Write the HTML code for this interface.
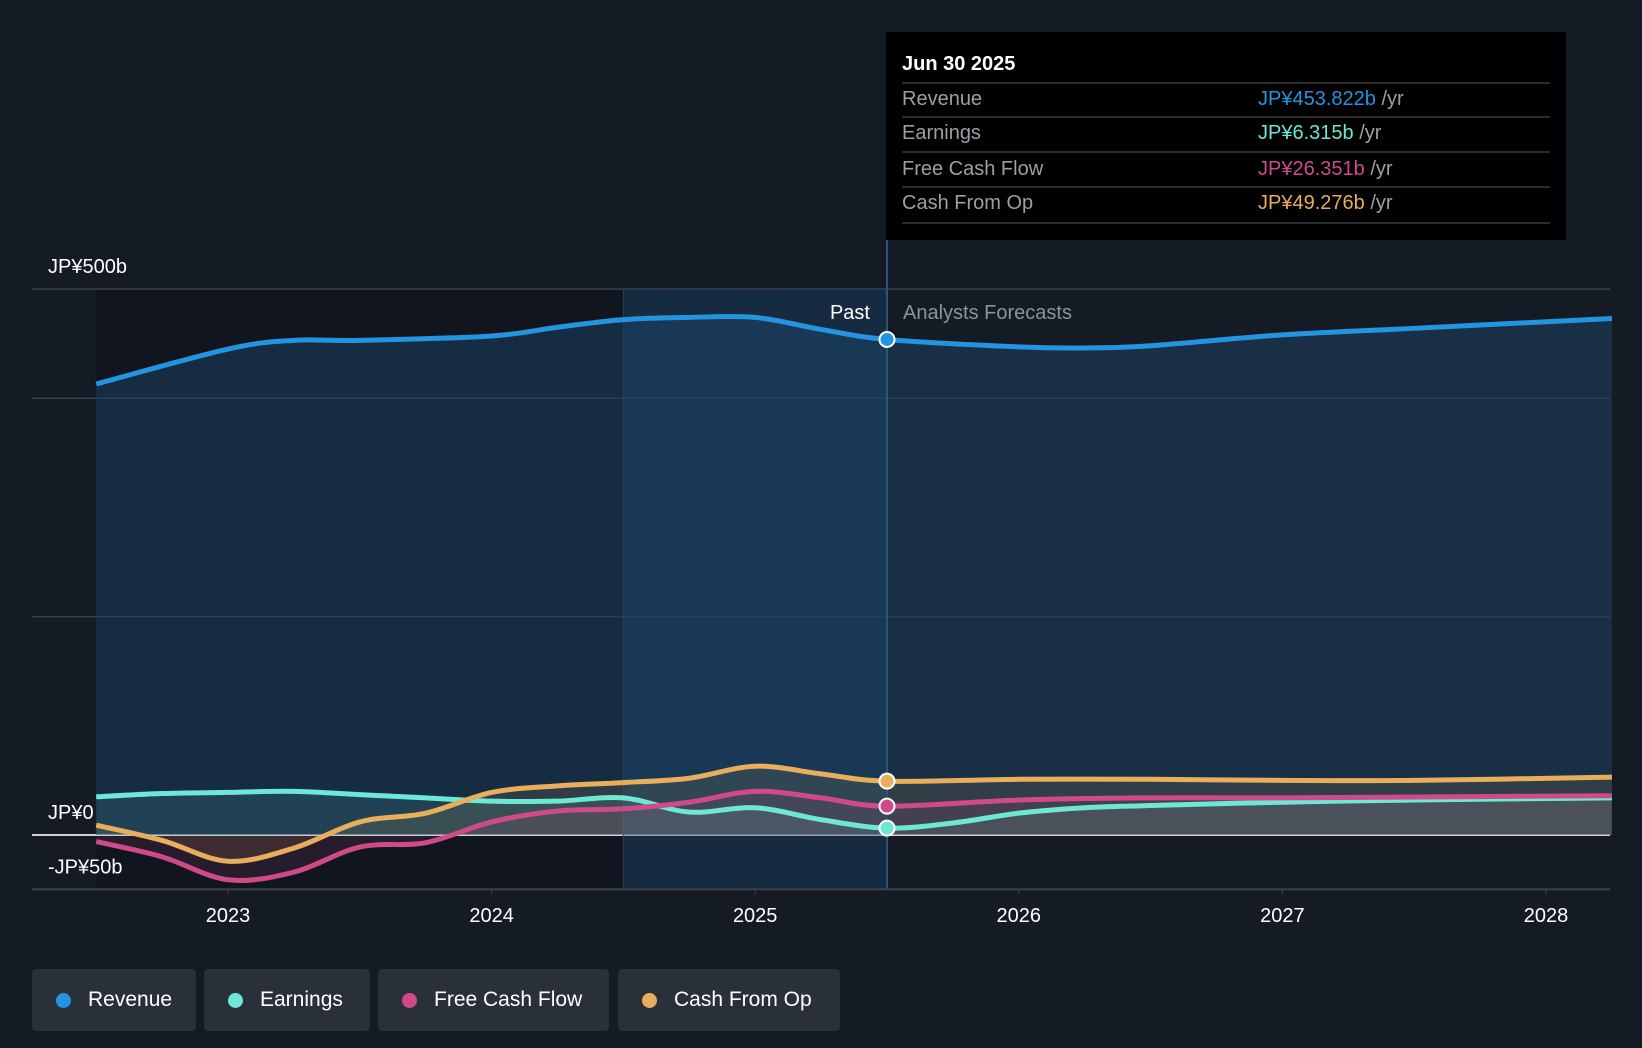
<!DOCTYPE html>
<html><head><meta charset="utf-8"><style>
body{margin:0;background:#151b24;width:1642px;height:1048px;overflow:hidden;font-family:"Liberation Sans",sans-serif}
svg{position:absolute;left:0;top:0}
.leg{position:absolute;top:969px;height:62px;background:#2a303a;border-radius:4px;color:#fff;font-size:21px;display:flex;align-items:center;box-sizing:border-box;padding-left:24px}
.leg i{display:inline-block;width:15px;height:15px;border-radius:50%;margin-right:17px}
</style></head><body>
<svg id="c" width="1642" height="1048"></svg>
<div class="leg" style="left:32px;width:164px"><i style="background:#2394e0"></i>Revenue</div>
<div class="leg" style="left:204px;width:166px"><i style="background:#6de8d4"></i>Earnings</div>
<div class="leg" style="left:378px;width:231px"><i style="background:#d04a8a"></i>Free Cash Flow</div>
<div class="leg" style="left:618px;width:222px"><i style="background:#e8ae5c"></i>Cash From Op</div>
<script>
const revX=[2022.5,2023,2023.25,2023.5,2024,2024.25,2024.5,2024.75,2025,2025.25,2025.5,2026,2026.25,2026.5,2027,2027.5,2028,2028.25];
const revY=[413,445,453,453,457,465,472,474,474,463,453.8,447,446,448,458,464,470,473];
const earnX=[2022.5,2022.75,2023,2023.25,2023.5,2023.75,2024,2024.25,2024.5,2024.75,2025,2025.25,2025.5,2025.75,2026,2026.25,2026.5,2027,2027.5,2028.25];
const earnY=[35,38,39,40,37,34,31,31,34,21,25,14,6.3,11,20,25,27,30,32,34];
const fcfX=[2022.5,2022.75,2023,2023.25,2023.5,2023.75,2024,2024.25,2024.5,2024.75,2025,2025.25,2025.5,2026,2026.5,2027,2028.25];
const fcfY=[-6,-20,-41,-34,-11,-7,12,22,24,30,40,34,26.4,32,34,34,36];
const cfoX=[2022.5,2022.75,2023,2023.25,2023.5,2023.75,2024,2024.25,2024.5,2024.75,2025,2025.25,2025.5,2026,2026.5,2027,2027.5,2028.25];
const cfoY=[9,-5,-24,-12,12,20,39,45,48,52,63,56,49.3,51,51,50,50,53];
const yTicks=[500,400,200,0,-50];
const yLabels=["JP¥500b","","","JP¥0","-JP¥50b"];
const xTicks=[2023,2024,2025,2026,2027,2028];
const X=t=>228+(t-2023)*263.6, Y=v=>835-v*1.092;
const NS="http://www.w3.org/2000/svg", svg=document.getElementById('c');
function el(tag,a,p){const e=document.createElementNS(NS,tag);for(const k in a)e.setAttribute(k,a[k]);(p||svg).appendChild(e);return e;}
function path(xs,ys){const p=xs.map((x,i)=>[X(x),Y(ys[i])]);let d='M'+p[0][0]+','+p[0][1];
for(let i=0;i<p.length-1;i++){const p0=p[i-1]||p[i],p1=p[i],p2=p[i+1],p3=p[i+2]||p2;
d+=`C${p1[0]+(p2[0]-p0[0])/6},${p1[1]+(p2[1]-p0[1])/6} ${p2[0]-(p3[0]-p1[0])/6},${p2[1]-(p3[1]-p1[1])/6} ${p2[0]},${p2[1]}`;}return d;}
let r=el('rect',{x:X(2022.5),y:289,width:X(2024.5)-X(2022.5),height:600,fill:'#11161e'});
yTicks.forEach((v,i)=>{const g=el('line',{x1:32,x2:1610,y1:Y(v),y2:Y(v),stroke:v===0?'#d0d4da':'#3a414c','stroke-width':v===0?2:1.5});

if(yLabels[i]){const t=el('text',{x:48,y:Y(v)-16,fill:'#fff','font-size':20});t.textContent=yLabels[i];
}});
const z=Y(0);
let a=el('path',{d:path(revX,revY)+`L${X(revX[revX.length-1])},${z}L${X(revX[0])},${z}Z`,fill:'#1c3f60',opacity:0.55});

r=el('rect',{x:X(2024.5),y:289,width:X(2025.5)-X(2024.5),height:600,fill:'#1a4a74',opacity:0.35});
el('line',{x1:X(2024.5),x2:X(2024.5),y1:289,y2:889,stroke:'#24405c'});
[[earnX,earnY,'#6de8d4'],[fcfX,fcfY,'#d04a8a'],[cfoX,cfoY,'#e8ae5c']].forEach(([xs,ys,c])=>{
const f=el('path',{d:path(xs,ys)+`L${X(xs[xs.length-1])},${z}L${X(xs[0])},${z}Z`,fill:c,opacity:0.12});
});
const series=[[revX,revY,'#2394e0','revenue-line'],[earnX,earnY,'#6de8d4','earnings-line'],[fcfX,fcfY,'#d04a8a','fcf-line'],[cfoX,cfoY,'#e8ae5c','cfo-line']];
series.forEach(([xs,ys,c,n])=>{const l=el('path',{d:path(xs,ys),fill:'none',stroke:c,'stroke-width':5});
});
el('line',{x1:X(2025.5),x2:X(2025.5),y1:240,y2:889,stroke:'#2b5479','stroke-width':2});
series.forEach(([xs,ys,c,n])=>{const i=xs.indexOf(2025.5);const d=el('circle',{cx:X(xs[i]),cy:Y(ys[i]),r:7.5,fill:c,stroke:'#fff','stroke-width':2});
});
let t=el('text',{x:X(2025.5)-17,y:319,fill:'#fff','font-size':20,'text-anchor':'end'});t.textContent='Past';
t=el('text',{x:X(2025.5)+16,y:319,fill:'#8d939b','font-size':20});t.textContent='Analysts Forecasts';
el('line',{x1:32,x2:1610,y1:889,y2:889,stroke:'#3a414c','stroke-width':1.5});
xTicks.forEach(y=>{el('line',{x1:X(y),x2:X(y),y1:889,y2:895,stroke:'#3a414c'});
const l=el('text',{x:X(y),y:922,fill:'#fff','font-size':20,'text-anchor':'middle'});l.textContent=y;
});
const g=el('g',{});
el('rect',{x:886,y:32,width:680,height:208,fill:'#000'},g);
let tt=el('text',{x:902,y:70,fill:'#fff','font-size':20,'font-weight':'bold'},g);tt.textContent='Jun 30 2025';
const rows=[['Revenue','JP¥453.822b','#2394e0'],['Earnings','JP¥6.315b','#6de8d4'],['Free Cash Flow','JP¥26.351b','#d04a8a'],['Cash From Op','JP¥49.276b','#e8ae5c']];
const ry=[105,139,175,209],ly=[83,117,152,187,223];
ly.forEach(y=>el('line',{x1:902,x2:1550,y1:y,y2:y,stroke:'#3a3a3a','stroke-width':1.5},g));
rows.forEach((r,i)=>{let a=el('text',{x:902,y:ry[i],fill:'#9aa0a6','font-size':20},g);a.textContent=r[0];
a=el('text',{x:1258,y:ry[i],fill:r[2],'font-size':20},g);a.textContent=r[1];
const s=el('tspan',{fill:'#9aa0a6'},a);s.textContent=' /yr';});
</script>
</body></html>
